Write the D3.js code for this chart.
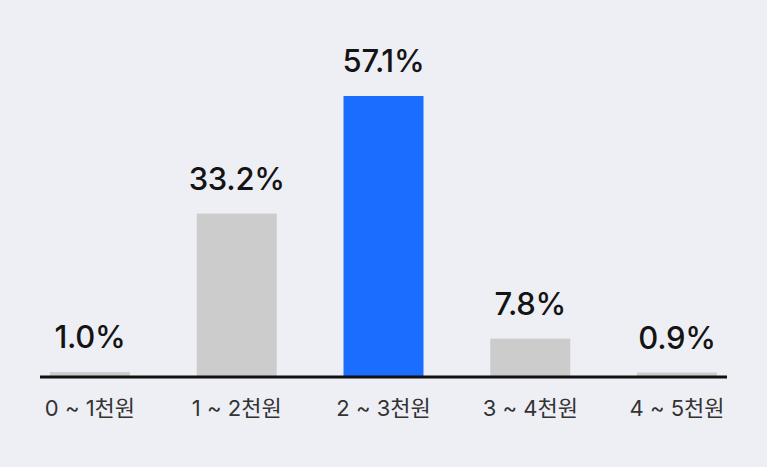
<!DOCTYPE html>
<html>
<head>
<meta charset="utf-8">
<script src="https://cdn.jsdelivr.net/npm/d3@7"></script>
<style>
  html, body { margin: 0; padding: 0; background: #eeeff5; }
  svg { display: block; }
</style>
</head>
<body>
<svg id="chart" width="767" height="467"></svg>
<script>
const categories = ["0 ~ 1천원", "1 ~ 2천원", "2 ~ 3천원", "3 ~ 4천원", "4 ~ 5천원"];
const values = [1.0, 33.2, 57.1, 7.8, 0.9];
const valueLabels = ["1.0%", "33.2%", "57.1%", "7.8%", "0.9%"];
const highlight = "2 ~ 3천원";

const svg = d3.select("#chart");
const W = 767, H = 467;
const baseY = 377;

svg.append("rect").attr("width", W).attr("height", H).attr("fill", "#eeeff5");

const x = d3.scaleBand()
  .domain(categories)
  .range([40, 727])
  .paddingInner(0.455)
  .paddingOuter(0.068);

const y = d3.scaleLinear()
  .domain([0, d3.max(values)])
  .range([baseY, 96]);

const data = categories.map((c, i) => ({ c, v: values[i], label: valueLabels[i] }));

svg.selectAll("rect.bar")
  .data(data)
  .join("rect")
  .attr("class", "bar")
  .attr("x", d => x(d.c))
  .attr("width", x.bandwidth())
  .attr("y", d => y(d.v))
  .attr("height", d => baseY - y(d.v))
  .attr("fill", d => d.c === highlight ? "#1a6dff" : "#cccccc");

svg.selectAll("text.val")
  .data(data)
  .join("text")
  .attr("class", "val")
  .attr("x", d => x(d.c) + x.bandwidth() / 2)
  .attr("y", d => y(d.v) - 24)
  .attr("text-anchor", "middle")
  .attr("font-family", "Inter, 'Noto Sans', sans-serif")
  .attr("font-size", 31)
  .attr("font-weight", 500)
  .attr("letter-spacing", "-0.3")
  .attr("fill", "#141414")
  .text(d => d.label);

const axis = d3.axisBottom(x).tickSize(0).tickPadding(0);
const g = svg.append("g").attr("transform", `translate(0,${baseY})`).call(axis);
g.select(".domain").remove();
g.append("line")
  .attr("x1", 40).attr("x2", 727)
  .attr("y1", 0).attr("y2", 0)
  .attr("stroke", "#111").attr("stroke-width", 3);
g.selectAll(".tick text")
  .attr("font-family", "Inter, 'Noto Sans CJK KR', sans-serif")
  .attr("font-size", 22)
  .attr("fill", "#333")
  .attr("y", 39)
  .attr("dy", null);
</script>
</body>
</html>
